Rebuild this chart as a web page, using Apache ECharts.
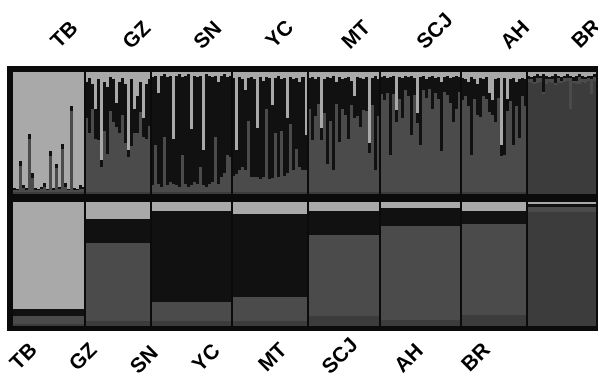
<!DOCTYPE html>
<html>
<head>
<meta charset="utf-8">
<script src="https://cdn.jsdelivr.net/npm/echarts@6/dist/echarts.min.js"></script>
<style>
html, body { margin: 0; padding: 0; background: #fff; }
#main { width: 598px; height: 376px; }
</style>
</head>
<body>
<div id="main"></div>
<script>
// populations, left to right
var popNames = ['TB', 'GZ', 'SN', 'YC', 'MT', 'SCJ', 'AH', 'BR'];

// top panel: membership per individual, [light, black, gray, dark] in %
var qTB = [[95,2,1,2],[96,1,1,2],[73,4,21,2],[93,2,3,2],[95,2,1,2],[51,4,43,2],[83,4,11,2],[95,2,1,2],
	[96,1,1,2],[94,2,2,2],[91,3,4,2],[96,1,1,2],[65,4,29,2],[95,2,1,2],[75,4,19,2],[94,2,2,2],
	[59,4,35,2],[91,3,4,2],[96,1,1,2],[28,4,66,2],[95,2,1,2],[96,1,1,2],[93,3,2,2],[94,2,2,2]];
var qGZ = [[8,30,60,2],[5,45,48,2],[10,20,68,2],[30,25,43,2],[6,50,42,2],[72,6,20,2],[8,40,50,2],[12,55,31,2],
	[4,28,66,2],[6,35,57,2],[25,20,53,2],[8,42,48,2],[5,30,63,2],[10,48,40,2],[64,6,28,2],[6,55,37,2],
	[30,20,48,2],[20,30,48,2],[8,25,65,2],[38,15,45,2],[10,45,43,2],[6,38,54,2]];
var qSN = [[4,89,5,2],[3,57,38,2],[17,75,6,2],[3,91,4,2],[2,51,45,2],[4,89,5,2],[3,87,8,2],[55,37,6,2],
	[3,90,5,2],[2,92,4,2],[4,64,30,2],[3,89,6,2],[2,92,4,2],[47,46,5,2],[3,87,8,2],[4,88,6,2],
	[3,75,20,2],[64,29,5,2],[2,92,4,2],[3,89,6,2],[4,86,8,2],[3,50,45,2],[8,84,6,2],[3,83,12,2],
	[2,81,15,2],[4,64,30,2],[3,67,28,2]];
var qYC = [[5,80,13,2],[64,20,14,2],[4,76,18,2],[6,72,20,2],[15,65,18,2],[5,35,58,2],[4,82,12,2],[6,80,12,2],
	[46,40,12,2],[4,84,10,2],[7,79,12,2],[4,26,68,2],[5,83,10,2],[27,60,11,2],[5,45,48,2],[3,83,12,2],
	[6,42,50,2],[5,80,13,2],[38,45,15,2],[4,39,55,2],[6,74,18,2],[5,58,35,2],[8,70,20,2],[4,76,18,2],
	[52,28,18,2]];
var qMT = [[5,25,68,2],[4,52,42,2],[6,30,62,2],[4,22,72,2],[46,10,42,2],[6,28,64,2],[4,71,23,2],[5,35,58,2],
	[3,77,18,2],[8,18,72,2],[4,53,41,2],[6,24,68,2],[5,30,63,2],[4,51,43,2],[7,20,71,2],[20,18,60,2],
	[4,32,62,2],[5,40,53,2],[6,25,67,2],[4,28,66,2],[58,8,32,2],[5,22,71,2],[3,77,18,2],[6,30,62,2]];
var qSCJ = [[4,14,80,2],[3,20,75,2],[5,12,81,2],[4,64,30,2],[3,15,80,2],[31,10,57,2],[4,18,76,2],[5,33,60,2],
	[3,12,83,2],[4,16,78,2],[3,49,46,2],[5,14,79,2],[34,8,56,2],[4,56,38,2],[3,12,83,2],[6,15,77,2],
	[4,10,84,2],[3,27,68,2],[5,12,81,2],[4,18,76,2],[8,57,33,2],[4,12,82,2],[3,16,79,2],[5,20,73,2],
	[4,37,57,2],[3,27,68,2],[4,12,82,2]];
var qAH = [[5,18,75,2],[6,14,78,2],[8,20,70,2],[4,64,30,2],[6,16,76,2],[10,25,63,2],[5,32,61,2],[6,14,78,2],
	[4,18,76,2],[17,16,65,2],[23,12,63,2],[6,35,57,2],[5,16,77,2],[60,9,29,2],[5,63,30,2],[22,10,66,2],
	[6,18,74,2],[5,55,38,2],[8,20,70,2],[6,48,44,2],[5,15,78,2],[6,22,70,2]];
var qBR = [[3,3,2,92],[4,2,3,91],[3,5,2,90],[2,3,4,91],[3,2,3,92],[2,14,2,82],[3,3,4,90],[4,2,2,92],
	[3,3,3,91],[2,7,2,89],[3,2,4,91],[4,3,2,91],[3,2,3,92],[2,3,2,93],[3,2,25,70],[4,3,2,91],
	[3,4,3,90],[2,2,6,90],[3,3,2,92],[4,2,3,91],[3,2,2,93],[3,3,12,82],[2,2,3,93]];

// bottom panel: population averages in %
var avgLight = [86, 14, 7, 10, 7, 5, 7, 2];
var avgBlack = [6, 19, 74, 67, 20, 14, 11, 2];
var avgGray  = [6, 63, 15, 19, 65, 76, 73, 4];
var avgDark  = [2, 4, 4, 4, 8, 5, 9, 92];

var clusterColors = ['#a9a9a9', '#111111', '#4b4b4b', '#3c3c3c'];

// label anchors (pixels)
var topLabelPos = [[55,45],[127,46],[198,46],[270,45],[346,46],[421,46],[505,46],[576,45]];
var bottomLabelPos = [[34,347],[94,347],[155,350],[217,348],[284,347],[355,342],[420,348],[487,347]];

var popQ = [qTB, qGZ, qSN, qYC, qMT, qSCJ, qAH, qBR];
var individuals = [];
var popSpans = [];
var bounds = [];
var n = 0;
function each(arr, fn) { for (var i = 0; i < arr.length; i++) fn(arr[i], i); }
each(popQ, function (q, p) {
	var start = n;
	each(q, function (row) {
		individuals.push([n, row[0], row[1], row[2], row[3]]);
		n += 1;
	});
	popSpans.push([start, n, avgLight[p], avgBlack[p], avgGray[p], avgDark[p]]);
	if (p > 0) bounds.push([start]);
});

/**
 * stacked rects from top: light, black, gray, dark (pixel-snapped so neighbours share edges)
 */
function stackRects(api, x0, x1, vals) {
	var children = [];
	var y = 100;
	for (var k = 0; k < 4; k++) {
		var p0 = api.coord([x0, y]);
		var p1 = api.coord([x1, y - vals[k]]);
		var left = Math.round(p0[0]), right = Math.round(p1[0]);
		var top = Math.round(p0[1]), bottom = Math.round(p1[1]);
		if (bottom > top) {
			children.push({
				type: 'rect',
				shape: { x: left, y: top, width: right - left, height: bottom - top },
				style: { fill: clusterColors[k] }
			});
		}
		y -= vals[k];
	}
	return children;
}

function renderIndividual(params, api) {
	var i = api.value(0);
	return { type: 'group', children: stackRects(api, i, i + 1, [api.value(1), api.value(2), api.value(3), api.value(4)]) };
}

function renderPopulation(params, api) {
	return { type: 'group', children: stackRects(api, api.value(0), api.value(1), [api.value(2), api.value(3), api.value(4), api.value(5)]) };
}

function renderBound(params, api) {
	var pTop = api.coord([api.value(0), 100]);
	var pBot = api.coord([api.value(0), 0]);
	return {
		type: 'rect',
		shape: { x: Math.round(pTop[0]) - 1, y: pTop[1], width: 2, height: pBot[1] - pTop[1] },
		style: { fill: '#0b0b0b' }
	};
}

var labelFont = 'bold 21px "Liberation Sans", Arial, sans-serif';
var graphics = [{
	type: 'rect', z: -10,
	shape: { x: 7, y: 66, width: 591, height: 265 },
	style: { fill: '#0b0b0b' }
}];
each(popNames, function (name, i) {
	graphics.push({
		type: 'text', x: topLabelPos[i][0], y: topLabelPos[i][1], rotation: Math.PI / 4,
		style: { text: name, font: labelFont, fill: '#000', align: 'left', verticalAlign: 'middle' }
	});
	graphics.push({
		type: 'text', x: bottomLabelPos[i][0], y: bottomLabelPos[i][1], rotation: Math.PI / 4,
		style: { text: name, font: labelFont, fill: '#000', align: 'right', verticalAlign: 'middle' }
	});
});

var myChart = echarts.init(document.getElementById('main'));
var option = {
	animation: false,
	backgroundColor: '#ffffff',
	grid: [
		{ left: 13, top: 72, width: 583, height: 122 },
		{ left: 13, top: 202, width: 583, height: 124 }
	],
	xAxis: [
		{ gridIndex: 0, type: 'value', min: 0, max: n, show: false },
		{ gridIndex: 1, type: 'value', min: 0, max: n, show: false }
	],
	yAxis: [
		{ gridIndex: 0, type: 'value', min: 0, max: 100, show: false },
		{ gridIndex: 1, type: 'value', min: 0, max: 100, show: false }
	],
	graphic: graphics,
	series: [{
		type: 'custom', xAxisIndex: 0, yAxisIndex: 0,
		renderItem: renderIndividual, data: individuals, silent: true
	}, {
		type: 'custom', xAxisIndex: 1, yAxisIndex: 1,
		renderItem: renderPopulation, data: popSpans, silent: true
	}, {
		type: 'custom', xAxisIndex: 0, yAxisIndex: 0, z: 5,
		renderItem: renderBound, data: bounds, silent: true
	}, {
		type: 'custom', xAxisIndex: 1, yAxisIndex: 1, z: 5,
		renderItem: renderBound, data: bounds, silent: true
	}]
};
myChart.setOption(option);
</script>
</body>
</html>
